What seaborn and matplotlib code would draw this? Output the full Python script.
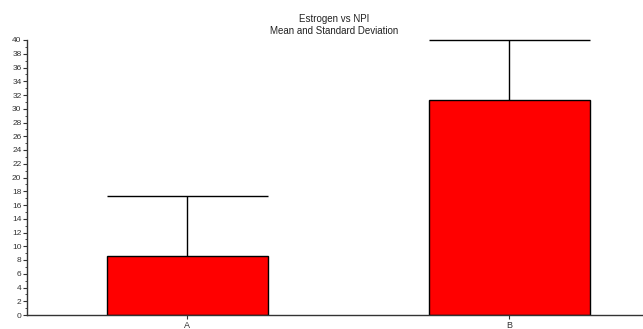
import matplotlib
matplotlib.use("Agg")
import matplotlib.pyplot as plt
import seaborn as sns
import numpy as np
from matplotlib.ticker import MultipleLocator

groups = ["A", "B"]
means = [8.6, 31.3]
sds = [8.7, 8.7]

sns.set_theme(style="ticks")
plt.rcParams["font.family"] = ["Arial", "Liberation Sans", "DejaVu Sans"]

fig = plt.figure(figsize=(6.43, 3.29), dpi=100)
ax = fig.add_axes([27 / 643, 14 / 329, 616 / 643, 275 / 329])

sns.barplot(x=groups, y=means, color="#ff0000", edgecolor="black",
            linewidth=1.0, width=0.5, errorbar=None, saturation=1, ax=ax)

x = np.arange(len(groups))
tops = np.array(means) + np.array(sds)
ax.vlines(x, means, tops, color="black", linewidth=1.0, clip_on=False, zorder=3)
ax.hlines(tops, x - 0.25, x + 0.25, color="black", linewidth=1.0, clip_on=False, zorder=3)

ax.set_xlim(-0.497, 1.416)
ax.set_ylim(0, 40)
ax.yaxis.set_major_locator(MultipleLocator(2))
ax.yaxis.set_minor_locator(MultipleLocator(1))
ax.tick_params(axis="y", which="major", labelsize=6, length=3, width=0.8, pad=1, colors="#333333")
ax.tick_params(axis="y", which="minor", length=1.5, width=0.6, color="#333333")
ax.tick_params(axis="x", labelsize=6.5, length=3, width=0.8, pad=1, colors="#333333")
ax.set_xlabel("")
ax.set_ylabel("")

for s in ("top", "right"):
    ax.spines[s].set_visible(False)
for s in ("left", "bottom"):
    ax.spines[s].set_color("#333333")
    ax.spines[s].set_linewidth(1.0)

fig.text(334 / 643, 1 - 25 / 329, "Estrogen vs NPI\nMean and Standard Deviation",
         ha="center", va="center", fontsize=7, color="#222222", linespacing=1.35)

fig.savefig("out.png", dpi=100, facecolor="white")
